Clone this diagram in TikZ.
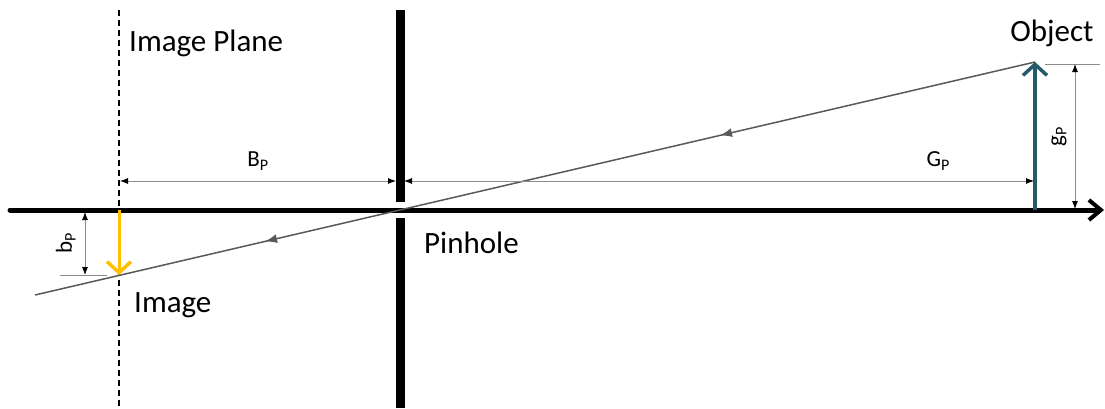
\documentclass[tikz,border=0pt]{standalone}
\usepackage{fontspec}
\setmainfont{Carlito}
\usepackage{xcolor}
\usetikzlibrary{arrows.meta, positioning, decorations.markings}
\definecolor{raygray}{RGB}{89,89,89}
\definecolor{dimgray}{RGB}{140,140,140}
\definecolor{objteal}{RGB}{36,91,106}
\definecolor{imgamber}{RGB}{255,192,0}

\begin{document}
\begin{tikzpicture}[
  x=1pt, y=-1pt,
  lbl/.style={font=\fontsize{31}{34}\selectfont, inner sep=0pt},
  dimlbl/.style={font=\fontsize{23}{25}\selectfont, inner sep=0pt, text=black},
  axisline/.style={line width=5pt, line cap=round,
                   -{Straight Barb[length=12pt, width=20pt, line width=4pt]}},
  wall/.style={line width=9pt},
  ray/.style={raygray, line width=1.5pt,
              postaction={decorate},
              decoration={markings,
                mark=at position 0.315 with {\arrow{Latex[length=12pt, width=9pt]}},
                mark=at position 0.77 with {\arrow{Latex[length=12pt, width=9pt]}}}},
  dim/.style={dimgray, line width=0.8pt,
              {Latex[length=8pt, width=6pt, black]}-{Latex[length=8pt, width=6pt, black]}},
  ext/.style={dimgray, line width=0.8pt},
  arr/.style={line width=4pt, -{Straight Barb[length=11pt, width=24pt, line width=3.5pt]}}
]
\useasboundingbox (0,0) rectangle (1105,408);

% ---- points ----
\coordinate (axL) at (10,210);
\coordinate (axR) at (1104,210);
\coordinate (obase) at (1035,210);
\coordinate (otip) at (1035,62);
\coordinate (ibase) at (119,210);
\coordinate (itip) at (119,275);
\coordinate (rayend) at (35,295);

% ---- optical axis, image plane, pinhole ----
\draw[axisline] (axL) -- (axR);
\draw[line width=1.1pt, dash pattern=on 6pt off 4pt] (119,10) coordinate (ipt) -- (119,408) coordinate (ipb);
\draw[wall] (400,10) coordinate (wt) -- (400,202) coordinate (wtb);
\draw[wall] (400,218) coordinate (wbt) -- (400,408) coordinate (wb);

% ---- ray through the pinhole ----
\draw[ray] (otip) -- (rayend);

% ---- object and image ----
\draw[arr, objteal] (obase) -- (otip);
\draw[arr, imgamber, line width=3pt] (ibase) -- (itip);

% ---- distances along the axis ----
\coordinate (bpl) at (120,181);
\coordinate (bpr) at (396,181);
\coordinate (gpl) at (404,181);
\coordinate (gpr) at (1034,181);
\draw[dim] (bpl) -- node[above=10pt, dimlbl] {B\textsubscript{P}} (bpr);
\draw[dim] (gpl) -- node[pos=0.848, above=10pt, dimlbl] {G\textsubscript{P}} (gpr);

% ---- heights ----
\coordinate (gpt) at (1075,64);
\coordinate (gpb) at (1075,209);
\draw[ext] (1045,64) coordinate (gex1) -- (1100,64) coordinate (gex2);
\draw[dim] (gpt) -- node[dimlbl, rotate=90, anchor=south, yshift=8pt] {g\textsubscript{P}} (gpb);
\coordinate (bpt) at (85,212);
\coordinate (bpb) at (85,275);
\draw[ext] (60,275) coordinate (bex1) -- (107,275) coordinate (bex2);
\draw[dim] (bpt) -- node[dimlbl, rotate=90, anchor=south, yshift=9pt] {b\textsubscript{P}} (bpb);

% ---- labels ----
\node[lbl, anchor=west] (plane) at (129,43) {Image Plane};
\node[lbl] (obj) at (1052,33) {Object};
\node[lbl, anchor=west] (pin) at (424,243) {Pinhole};
\node[lbl, anchor=west] (img) at (134,305) {Image};

\end{tikzpicture}
\end{document}
